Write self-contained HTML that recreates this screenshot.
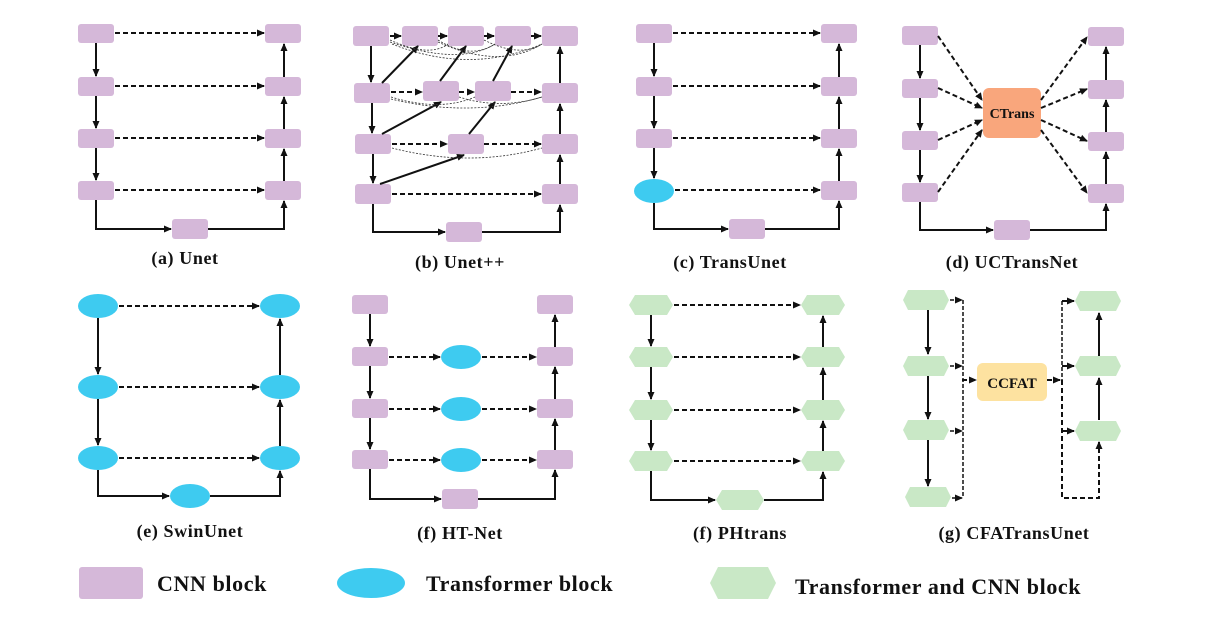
<!DOCTYPE html>
<html><head><meta charset="utf-8"><style>body{margin:0;background:#fff}svg{display:block}text{font-family:"Liberation Serif",serif;font-weight:bold;fill:#111}</style></head><body>
<svg width="1231" height="624" viewBox="0 0 1231 624" xmlns="http://www.w3.org/2000/svg">
<defs><marker id="a" markerWidth="8" markerHeight="8" refX="7" refY="4" orient="auto" markerUnits="userSpaceOnUse"><path d="M0,0.5 L8,4 L0,7.5z" fill="#111"/></marker></defs>
<g fill="#d5b8d9">
<rect x="78" y="24" width="36" height="19" rx="3"/><rect x="78" y="77" width="36" height="19" rx="3"/><rect x="78" y="129" width="36" height="19" rx="3"/><rect x="78" y="181" width="36" height="19" rx="3"/>
<rect x="265" y="24" width="36" height="19" rx="3"/><rect x="265" y="77" width="36" height="19" rx="3"/><rect x="265" y="129" width="36" height="19" rx="3"/><rect x="265" y="181" width="36" height="19" rx="3"/>
<rect x="172" y="219" width="36" height="20" rx="3"/>
<rect x="353" y="26" width="36" height="20" rx="3"/><rect x="402" y="26" width="36" height="20" rx="3"/><rect x="448" y="26" width="36" height="20" rx="3"/><rect x="495" y="26" width="36" height="20" rx="3"/><rect x="542" y="26" width="36" height="20" rx="3"/>
<rect x="354" y="83" width="36" height="20" rx="3"/><rect x="423" y="81" width="36" height="20" rx="3"/><rect x="475" y="81" width="36" height="20" rx="3"/><rect x="542" y="83" width="36" height="20" rx="3"/>
<rect x="355" y="134" width="36" height="20" rx="3"/><rect x="448" y="134" width="36" height="20" rx="3"/><rect x="542" y="134" width="36" height="20" rx="3"/>
<rect x="355" y="184" width="36" height="20" rx="3"/><rect x="542" y="184" width="36" height="20" rx="3"/>
<rect x="446" y="222" width="36" height="20" rx="3"/>
<rect x="636" y="24" width="36" height="19" rx="3"/><rect x="636" y="77" width="36" height="19" rx="3"/><rect x="636" y="129" width="36" height="19" rx="3"/>
<rect x="821" y="24" width="36" height="19" rx="3"/><rect x="821" y="77" width="36" height="19" rx="3"/><rect x="821" y="129" width="36" height="19" rx="3"/><rect x="821" y="181" width="36" height="19" rx="3"/>
<rect x="729" y="219" width="36" height="20" rx="3"/>
<rect x="902" y="26" width="36" height="19" rx="3"/><rect x="902" y="79" width="36" height="19" rx="3"/><rect x="902" y="131" width="36" height="19" rx="3"/><rect x="902" y="183" width="36" height="19" rx="3"/>
<rect x="1088" y="27" width="36" height="19" rx="3"/><rect x="1088" y="80" width="36" height="19" rx="3"/><rect x="1088" y="132" width="36" height="19" rx="3"/><rect x="1088" y="184" width="36" height="19" rx="3"/>
<rect x="994" y="220" width="36" height="20" rx="3"/>
<rect x="352" y="295" width="36" height="19" rx="3"/><rect x="352" y="347" width="36" height="19" rx="3"/><rect x="352" y="399" width="36" height="19" rx="3"/><rect x="352" y="450" width="36" height="19" rx="3"/>
<rect x="537" y="295" width="36" height="19" rx="3"/><rect x="537" y="347" width="36" height="19" rx="3"/><rect x="537" y="399" width="36" height="19" rx="3"/><rect x="537" y="450" width="36" height="19" rx="3"/>
<rect x="442" y="489" width="36" height="20" rx="3"/>
<rect x="79" y="567" width="64" height="32" rx="3"/>
</g>
<rect x="983" y="88" width="58" height="50" rx="6" fill="#f9a67c"/>
<text x="1012" y="118" font-size="14" text-anchor="middle">CTrans</text>
<g fill="#3ecbf0">
<ellipse cx="654" cy="191" rx="20" ry="12"/>
<ellipse cx="98" cy="306" rx="20" ry="12"/><ellipse cx="98" cy="387" rx="20" ry="12"/><ellipse cx="98" cy="458" rx="20" ry="12"/>
<ellipse cx="280" cy="306" rx="20" ry="12"/><ellipse cx="280" cy="387" rx="20" ry="12"/><ellipse cx="280" cy="458" rx="20" ry="12"/>
<ellipse cx="190" cy="496" rx="20" ry="12"/>
<ellipse cx="461" cy="357" rx="20" ry="12"/><ellipse cx="461" cy="409" rx="20" ry="12"/><ellipse cx="461" cy="460" rx="20" ry="12"/>
<ellipse cx="371" cy="583" rx="34" ry="15"/>
</g>
<g fill="#c9e8c6">
<path d="M635,295h32l6,10l-6,10h-32l-6,-10z"/><path d="M635,347h32l6,10l-6,10h-32l-6,-10z"/><path d="M635,400h32l6,10l-6,10h-32l-6,-10z"/><path d="M635,451h32l6,10l-6,10h-32l-6,-10z"/>
<path d="M807,295h32l6,10l-6,10h-32l-6,-10z"/><path d="M807,347h32l6,10l-6,10h-32l-6,-10z"/><path d="M807,400h32l6,10l-6,10h-32l-6,-10z"/><path d="M807,451h32l6,10l-6,10h-32l-6,-10z"/>
<path d="M722,490h36l6,10l-6,10h-36l-6,-10z"/>
<path d="M908,290h36l5,10l-5,10h-36l-5,-10z"/><path d="M908,356h36l5,10l-5,10h-36l-5,-10z"/><path d="M908,420h36l5,10l-5,10h-36l-5,-10z"/><path d="M910,487h36l5,10l-5,10h-36l-5,-10z"/>
<path d="M1080,291h36l5,10l-5,10h-36l-5,-10z"/><path d="M1080,356h36l5,10l-5,10h-36l-5,-10z"/><path d="M1080,421h36l5,10l-5,10h-36l-5,-10z"/>
<path d="M718,567h50l8,16l-8,16h-50l-8,-16z"/>
</g>
<rect x="977" y="363" width="70" height="38" rx="6" fill="#fde2a0"/>
<text x="1012" y="388" font-size="15" text-anchor="middle">CCFAT</text>

<g stroke="#111" stroke-width="2" fill="none" marker-end="url(#a)">
<path d="M96,43V76"/><path d="M96,96V128"/><path d="M96,148V180"/><path d="M96,200V229H171"/><path d="M208,229H284V201"/><path d="M284,181V149"/><path d="M284,129V97"/><path d="M284,77V44"/>
<path d="M371,46V82"/><path d="M372,103V133"/><path d="M373,154V183"/><path d="M373,204V232H445"/><path d="M482,232H560V205"/><path d="M560,184V155"/><path d="M560,134V104"/><path d="M560,83V47"/>
<path d="M382,83L418,46"/><path d="M440,81L466,46"/><path d="M493,81L512,46"/><path d="M382,134L441,102"/><path d="M469,134L495,102"/><path d="M380,184L464,155"/>
<path d="M654,43V76"/><path d="M654,96V128"/><path d="M654,148V178"/><path d="M654,203V229H728"/><path d="M765,229H839V201"/><path d="M839,181V149"/><path d="M839,129V97"/><path d="M839,77V44"/>
<path d="M920,45V78"/><path d="M920,98V130"/><path d="M920,150V182"/><path d="M920,202V230H993"/><path d="M1030,230H1106V204"/><path d="M1106,184V152"/><path d="M1106,132V100"/><path d="M1106,80V47"/>
<path d="M98,318V374"/><path d="M98,399V445"/><path d="M98,470V496H169"/><path d="M210,496H280V471"/><path d="M280,446V400"/><path d="M280,375V319"/>
<path d="M370,314V346"/><path d="M370,366V398"/><path d="M370,418V449"/><path d="M370,469V499H441"/><path d="M478,499H555V470"/><path d="M555,450V419"/><path d="M555,399V367"/><path d="M555,347V315"/>
<path d="M651,315V346"/><path d="M651,367V399"/><path d="M651,420V450"/><path d="M651,471V500H715"/><path d="M764,500H823V472"/><path d="M823,451V421"/><path d="M823,400V368"/><path d="M823,347V316"/>
<path d="M928,310V354"/><path d="M928,376V419"/><path d="M928,440V486"/><path d="M1099,420V378"/><path d="M1099,356V313"/>
</g>
<g stroke="#111" stroke-width="2" fill="none" stroke-dasharray="5,3" marker-end="url(#a)">
<path d="M115,33H264"/><path d="M115,86H264"/><path d="M115,138H264"/><path d="M115,190H264"/>
<path d="M390,36H401"/><path d="M438,36H447"/><path d="M484,36H494"/><path d="M531,36H541"/>
<path d="M391,92H422"/><path d="M459,92H474"/><path d="M511,92H541"/><path d="M392,144H447"/><path d="M484,144H541"/><path d="M392,194H541"/>
<path d="M673,33H820"/><path d="M673,86H820"/><path d="M673,138H820"/><path d="M675,190H820"/>
<path d="M938,36L982,100"/><path d="M938,88L982,108"/><path d="M938,140L982,120"/><path d="M938,192L982,130"/>
<path d="M1041,100L1087,37"/><path d="M1041,108L1087,89"/><path d="M1041,120L1087,141"/><path d="M1041,130L1087,193"/>
<path d="M119,306H259"/><path d="M119,387H259"/><path d="M119,458H259"/>
<path d="M389,357H440"/><path d="M482,357H536"/><path d="M389,409H440"/><path d="M482,409H536"/><path d="M389,460H440"/><path d="M482,460H536"/>
<path d="M674,305H800"/><path d="M674,357H800"/><path d="M674,410H800"/><path d="M674,461H800"/>
<path d="M962,380H976"/><path d="M1047,380H1060"/>
<path d="M1062,301H1074"/><path d="M1062,366H1074"/><path d="M1062,431H1074"/>
<path d="M1062,380V498H1099V442"/>
</g>
<g stroke="#111" stroke-width="1.5" fill="none" stroke-dasharray="4,2" marker-end="url(#a)">
<path d="M950,300H962"/><path d="M950,366H962"/><path d="M950,431H962"/><path d="M952,498H962"/>
</g>
<path d="M963,300V498M1062,301V380" stroke="#111" stroke-width="1.5" stroke-dasharray="4,2" fill="none"/>
<g stroke="#333" stroke-width="0.8" fill="none" stroke-dasharray="2,1.5">
<path d="M390,40Q430,58 448,44"/><path d="M390,42Q460,66 495,44"/><path d="M392,44Q470,75 542,44"/><path d="M438,40Q470,60 495,44"/><path d="M438,42Q500,70 542,44"/><path d="M484,40Q520,58 542,44"/>
<path d="M391,97Q440,112 475,97"/><path d="M391,99Q470,118 542,97"/><path d="M459,97Q500,110 542,97"/><path d="M392,148Q470,168 542,148"/>
</g>
<g font-size="18" text-anchor="middle" letter-spacing="0.6">
<text x="185" y="264">(a) Unet</text><text x="460" y="268">(b) Unet++</text><text x="730" y="268">(c) TransUnet</text><text x="1012" y="268">(d) UCTransNet</text>
<text x="190" y="537">(e) SwinUnet</text><text x="460" y="539">(f) HT-Net</text><text x="740" y="539">(f) PHtrans</text><text x="1014" y="539">(g) CFATransUnet</text>
</g>
<g font-size="22" letter-spacing="0.6"><text x="157" y="591">CNN block</text><text x="426" y="591">Transformer block</text><text x="795" y="594">Transformer and CNN block</text></g>
</svg>
</body></html>
